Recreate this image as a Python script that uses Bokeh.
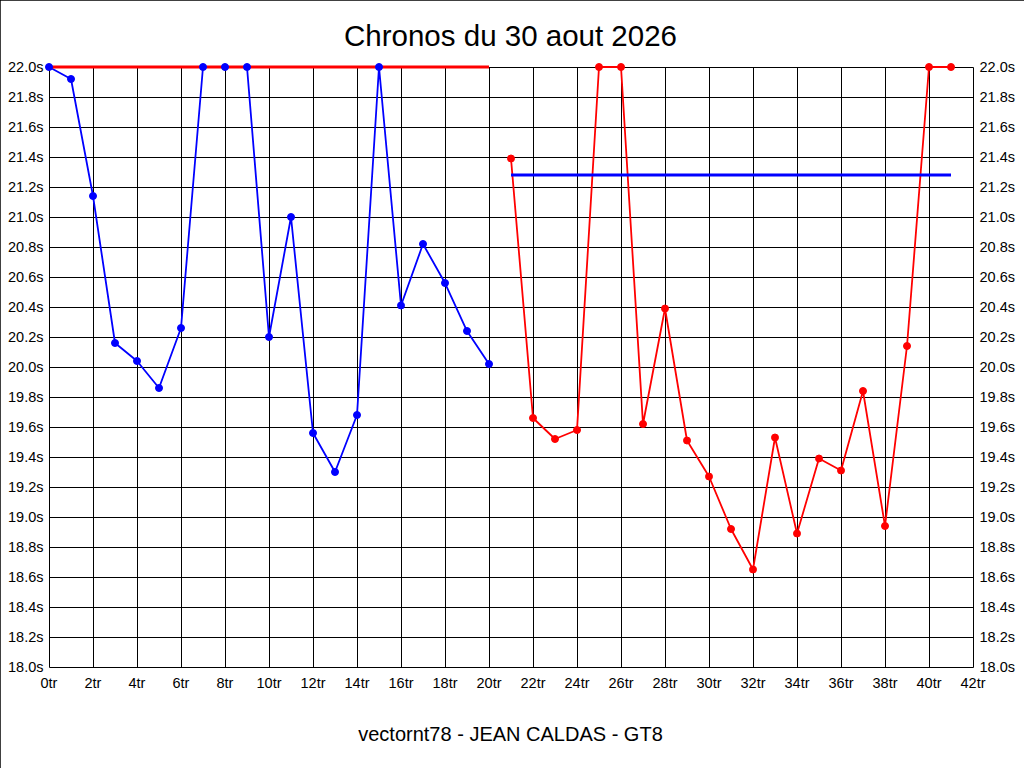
from bokeh.plotting import figure
from bokeh.models import FixedTicker, PrintfTickFormatter, LinearAxis, Range1d
from bokeh.embed import file_html
from bokeh.resources import INLINE

# ---- data ----
laps_a = list(range(0, 21))
times_a = [22.0, 21.92, 21.14, 20.16, 20.04, 19.86, 20.26, 22.0, 22.0, 22.0,
           20.20, 21.0, 19.56, 19.30, 19.68, 22.0, 20.41, 20.82, 20.56, 20.24, 20.02]
laps_b = list(range(21, 42))
times_b = [21.39, 19.66, 19.52, 19.58, 22.0, 22.0, 19.62, 20.39, 19.51, 19.27,
           18.92, 18.65, 19.53, 18.89, 19.39, 19.31, 19.84, 18.94, 20.14, 22.0, 22.0]
mean_a_x = [0, 20]
mean_a_y = [22.0, 22.0]
mean_b_x = [21, 41]
mean_b_y = [21.28, 21.28]
x_ticks = list(range(0, 43, 2))
y_ticks = [18.0, 18.2, 18.4, 18.6, 18.8, 19.0, 19.2, 19.4, 19.6, 19.8, 20.0,
           20.2, 20.4, 20.6, 20.8, 21.0, 21.2, 21.4, 21.6, 21.8, 22.0]
title_text = "Chronos du 30 aout 2026"
x_label = "vectornt78 - JEAN CALDAS - GT8"

X_MIN, X_MAX = 0, 42
Y_MIN, Y_MAX = 18.0, 22.0

FONT = "Liberation Sans"

# plot area of 924 x 600 px for the data, with a small pad so that
# markers and thick lines sitting on the border are not clipped
PX_X = 924 / (X_MAX - X_MIN)
PX_Y = 600 / (Y_MAX - Y_MIN)
PAD_LO, PAD_HI = 5.5, 4.5

p = figure(frame_width=934, frame_height=610,
           x_range=Range1d(X_MIN - PAD_LO / PX_X, X_MAX + PAD_HI / PX_X),
           y_range=Range1d(Y_MIN - PAD_HI / PX_Y, Y_MAX + PAD_LO / PX_Y),
           output_backend="svg", toolbar_location=None,
           min_border_left=43, min_border_right=47,
           min_border_top=61, min_border_bottom=97,
           title=title_text,
           background_fill_color="white", border_fill_color="white")

p.styles = {"outline": "1px solid black", "outline-offset": "-1px"}

p.title.align = "center"
p.title.text_font = FONT
p.title.text_font_size = "29.5px"
p.title.text_font_style = "normal"
p.title.text_color = "black"
p.title.standoff = 20

p.outline_line_color = None

# axes
p.xaxis.ticker = FixedTicker(ticks=x_ticks)
p.xaxis.formatter = PrintfTickFormatter(format="%dtr")
p.yaxis.ticker = FixedTicker(ticks=y_ticks)
p.yaxis.formatter = PrintfTickFormatter(format="%.1fs")

right_axis = LinearAxis(ticker=FixedTicker(ticks=y_ticks),
                        formatter=PrintfTickFormatter(format="%.1fs"))
p.add_layout(right_axis, "right")

for ax in p.xaxis:
    ax.bounds = (X_MIN, X_MAX)
for ax in p.yaxis:
    ax.bounds = (Y_MIN, Y_MAX)

for ax in p.xaxis + p.yaxis:
    ax.major_tick_out = 0
    ax.major_tick_in = 0
    ax.minor_tick_out = 0
    ax.minor_tick_in = 0
    ax.axis_line_color = None
    ax.major_label_text_font = FONT
    ax.major_label_text_font_size = "14.5px"
    ax.major_label_text_color = "black"

p.yaxis[0].major_label_standoff = 0
right_axis.major_label_standoff = 2
p.xaxis.major_label_standoff = 3
p.xaxis.axis_label = x_label
p.xaxis.axis_label_text_font = FONT
p.xaxis.axis_label_text_font_size = "20px"
p.xaxis.axis_label_text_font_style = "normal"
p.xaxis.axis_label_text_color = "black"
p.xaxis.axis_label_standoff = 29

p.xgrid.ticker = FixedTicker(ticks=x_ticks)
p.ygrid.ticker = FixedTicker(ticks=y_ticks)
p.xgrid.bounds = (X_MIN, X_MAX)
p.ygrid.bounds = (Y_MIN, Y_MAX)
p.xgrid.cross_bounds = (Y_MIN, Y_MAX)
p.ygrid.cross_bounds = (X_MIN, X_MAX)
for g in (p.xgrid, p.ygrid):
    g.grid_line_color = "black"
    g.grid_line_alpha = 1.0
    g.grid_line_width = 1

# series
p.line(laps_a, times_a, line_color="#0000ff", line_width=1.8)
p.line(mean_a_x, mean_a_y, line_color="#ff0000", line_width=3)
p.scatter(laps_a, times_a, size=7, fill_color="#0000ff", line_color="#0000ff")
p.line(laps_b, times_b, line_color="#ff0000", line_width=1.8)
p.scatter(laps_b, times_b, size=7, fill_color="#ff0000", line_color="#ff0000")
p.line(mean_b_x, mean_b_y, line_color="#0000ff", line_width=3)

open("out.html", "w").write(file_html(p, INLINE))
